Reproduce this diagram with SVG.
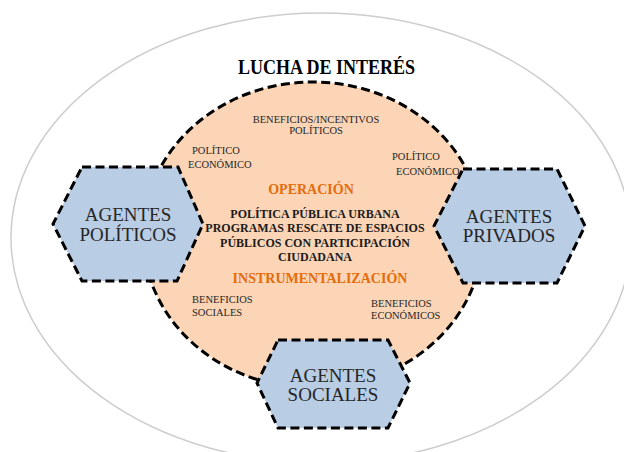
<svg xmlns="http://www.w3.org/2000/svg" width="624" height="452" viewBox="0 0 624 452">
<style>
.dash{stroke:#000;stroke-width:3;stroke-dasharray:9 4.5;stroke-linejoin:miter}
.hex{fill:#B9CDE5}
.serif{font-family:"Liberation Serif","Times New Roman",serif}
.hexlbl{font-size:19px;fill:#262626;text-anchor:middle}
.small{font-size:10.5px;fill:#262626}
.bold{font-size:12px;font-weight:bold;fill:#1a1a1a;text-anchor:middle}
.orange{font-size:14px;font-weight:bold;fill:#E46C0A;text-anchor:middle}
</style>
<rect width="624" height="452" fill="#fff"/>
<g id="outer">
<ellipse cx="321" cy="238" rx="310" ry="225" fill="#fff" stroke="#cdcdcd" stroke-width="1.5"/>
</g>
<g id="center">
<ellipse cx="313" cy="235" rx="170" ry="153" fill="#FBD5B6" class="dash"/>
</g>
<g id="connectors"/>
<g id="agentes-politicos">
<polygon class="hex dash" points="82,167 178,167 203,224 177,281 82,281 53,224"/>
<text class="serif hexlbl" x="128" y="221">AGENTES</text>
<text class="serif hexlbl" x="128" y="241">POLÍTICOS</text>
</g>
<g id="agentes-privados">
<polygon class="hex dash" points="463,169 557,169 585,226 557,283 463,283 434,226"/>
<text class="serif hexlbl" x="509" y="223">AGENTES</text>
<text class="serif hexlbl" x="509" y="242">PRIVADOS</text>
</g>
<g id="agentes-sociales">
<polygon class="hex dash" points="278,340 388,340 410,383 388,428 278,428 257,383"/>
<text class="serif hexlbl" x="333" y="382">AGENTES</text>
<text class="serif hexlbl" x="333" y="401">SOCIALES</text>
</g>
<g id="labels">
<text class="serif" x="326.5" y="74" font-size="22" font-weight="bold" fill="#000" text-anchor="middle" textLength="177" lengthAdjust="spacingAndGlyphs">LUCHA DE INTERÉS</text>
<text class="serif small" x="316" y="123" text-anchor="middle">BENEFICIOS/INCENTIVOS</text>
<text class="serif small" x="316" y="134" text-anchor="middle">POLÍTICOS</text>
<text class="serif small" x="192" y="154">POLÍTICO</text>
<text class="serif small" x="188" y="168">ECONÓMICO</text>
<text class="serif small" x="392" y="160">POLÍTICO</text>
<text class="serif small" x="396" y="175">ECONÓMICO</text>
<text class="serif orange" x="311" y="194">OPERACIÓN</text>
<text class="serif bold" x="315" y="218">POLÍTICA PÚBLICA URBANA</text>
<text class="serif bold" x="315" y="232">PROGRAMAS RESCATE DE ESPACIOS</text>
<text class="serif bold" x="315" y="247">PÚBLICOS CON PARTICIPACIÓN</text>
<text class="serif bold" x="315" y="261">CIUDADANA</text>
<text class="serif orange" x="320" y="283">INSTRUMENTALIZACIÓN</text>
<text class="serif small" x="192" y="303">BENEFICIOS</text>
<text class="serif small" x="192" y="316">SOCIALES</text>
<text class="serif small" x="371" y="307">BENEFICIOS</text>
<text class="serif small" x="371" y="319">ECONÓMICOS</text>
</g>
</svg>
